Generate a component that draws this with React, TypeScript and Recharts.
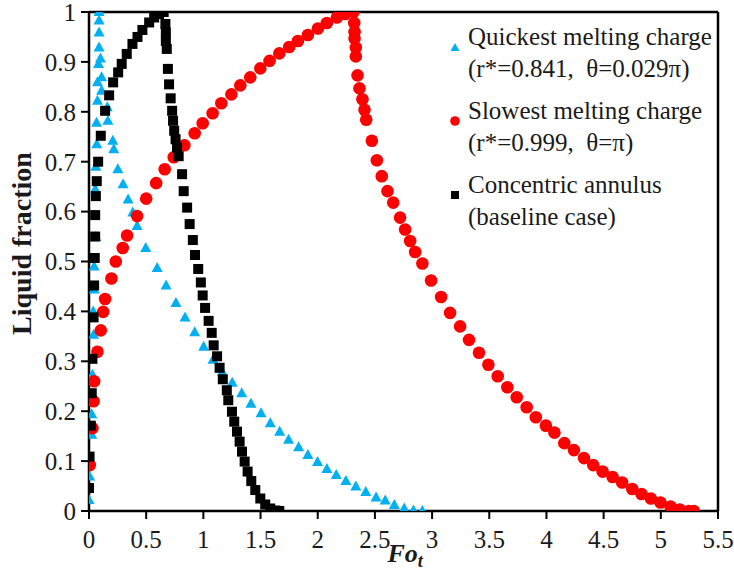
import React from 'react';
import { ScatterChart, Scatter, XAxis, YAxis, ReferenceLine, Legend } from 'recharts';

const xTicks = [0, 0.5, 1, 1.5, 2, 2.5, 3, 3.5, 4, 4.5, 5, 5.5];
const yTicks = [0, 0.1, 0.2, 0.3, 0.4, 0.5, 0.6, 0.7, 0.8, 0.9, 1];

// Quickest melting charge (blue triangles)
const quickestFo = [
  0, 0.005, 0.024, 0.024, 0.03, 0.04, 0.037, 0.045, 0.045, 0.06, 0.055, 0.06, 0.068, 0.066, 0.074, 0.074, 0.083, 0.088, 0.088, 0.088, 0.088,
  0.1, 0.11, 0.11, 0.16, 0.165, 0.208, 0.217, 0.252, 0.298, 0.342, 0.383, 0.42, 0.496, 0.596, 0.674, 0.76, 0.84, 0.924, 1.003, 1.084,
  1.166, 1.252, 1.335, 1.416, 1.504, 1.585, 1.667, 1.745, 1.833, 1.914, 1.998, 2.08, 2.162, 2.246, 2.333, 2.42, 2.51, 2.59, 2.67, 2.756,
  2.837, 2.915,
];
const quickestLF = [
  0.022, 0.069, 0.153, 0.194, 0.273, 0.353, 0.4, 0.444, 0.49, 0.549, 0.645, 0.69, 0.735, 0.778, 0.822, 0.859, 0.896, 0.929, 0.959, 0.983, 1.0,
  0.907, 0.869, 0.842, 0.809, 0.782, 0.742, 0.725, 0.685, 0.655, 0.624, 0.598, 0.571, 0.527, 0.487, 0.452, 0.417, 0.388, 0.358, 0.329, 0.303,
  0.278, 0.257, 0.236, 0.215, 0.196, 0.176, 0.159, 0.143, 0.128, 0.112, 0.098, 0.084, 0.072, 0.06, 0.049, 0.038, 0.027, 0.021, 0.012, 0.005,
  0.001, 0.0,
];

// Slowest melting charge (red circles)
const slowestFo = [
  0.007, 0.03, 0.04, 0.045, 0.074, 0.103, 0.124, 0.141, 0.196, 0.234, 0.295, 0.333, 0.421, 0.5, 0.587, 0.662, 0.741, 0.834, 0.924, 0.994,
  1.081, 1.157, 1.245, 1.323, 1.41, 1.498, 1.579, 1.664, 1.751, 1.827, 1.914, 2.002, 2.08, 2.168, 2.24, 2.313,
  2.319, 2.322, 2.322, 2.333, 2.333, 2.348, 2.365, 2.391, 2.409, 2.424, 2.473, 2.517, 2.56, 2.61, 2.66, 2.72, 2.764, 2.808, 2.852, 2.915,
  2.991, 3.079, 3.157, 3.245, 3.323, 3.41, 3.492, 3.574, 3.658, 3.74, 3.827, 3.907, 3.995, 4.07, 4.156, 4.24, 4.328, 4.409, 4.491, 4.578,
  4.662, 4.75, 4.831, 4.913, 4.997, 5.085, 5.166, 5.245, 5.288,
];
const slowestLF = [
  0.092, 0.166, 0.22, 0.26, 0.319, 0.362, 0.399, 0.425, 0.466, 0.5, 0.527, 0.552, 0.591, 0.626, 0.657, 0.685, 0.709, 0.733, 0.757, 0.777,
  0.797, 0.817, 0.835, 0.853, 0.869, 0.887, 0.902, 0.917, 0.93, 0.942, 0.954, 0.967, 0.978, 0.989, 0.996, 1.0,
  0.978, 0.96, 0.947, 0.929, 0.911, 0.873, 0.847, 0.825, 0.804, 0.784, 0.742, 0.703, 0.671, 0.641, 0.618, 0.588, 0.564, 0.541, 0.519, 0.496,
  0.462, 0.429, 0.397, 0.37, 0.343, 0.317, 0.293, 0.27, 0.248, 0.228, 0.208, 0.188, 0.171, 0.157, 0.136, 0.122, 0.106, 0.092, 0.079, 0.068,
  0.057, 0.044, 0.034, 0.025, 0.017, 0.009, 0.003, 0.0, 0.0,
];

// Concentric annulus (black squares)
const concentricFo = [
  0, 0.005, 0.016, 0.024, 0.03, 0.04, 0.045, 0.05, 0.054, 0.054, 0.06, 0.068, 0.08, 0.103, 0.141, 0.176, 0.211, 0.255, 0.286, 0.33, 0.38,
  0.424, 0.467, 0.526, 0.57, 0.613, 0.653,
  0.668, 0.672, 0.672, 0.68, 0.69, 0.7, 0.714, 0.727, 0.735, 0.745, 0.757, 0.77, 0.784, 0.814, 0.828, 0.858, 0.88, 0.908, 0.927, 0.955,
  0.978, 0.994, 1.015, 1.046, 1.073, 1.09, 1.12, 1.142, 1.17, 1.205, 1.218, 1.25, 1.27, 1.294, 1.317, 1.338, 1.361, 1.387, 1.419, 1.454,
  1.498, 1.541, 1.585, 1.63, 1.664,
];
const concentricLF = [
  0.046, 0.109, 0.171, 0.236, 0.305, 0.388, 0.452, 0.507, 0.55, 0.593, 0.631, 0.661, 0.7, 0.752, 0.802, 0.833, 0.859, 0.879, 0.896, 0.916, 0.936,
  0.95, 0.964, 0.979, 0.989, 0.996, 1.0,
  0.976, 0.959, 0.942, 0.926, 0.886, 0.855, 0.827, 0.802, 0.782, 0.762, 0.745, 0.728, 0.711, 0.675, 0.641, 0.608, 0.575, 0.543, 0.513, 0.485,
  0.458, 0.432, 0.407, 0.381, 0.357, 0.332, 0.31, 0.287, 0.264, 0.242, 0.222, 0.199, 0.179, 0.159, 0.139, 0.119, 0.099, 0.079, 0.06, 0.042,
  0.025, 0.013, 0.005, 0.001, 0.0,
];

const legendLines = [
  ['Quickest melting charge', '(r*=0.841,  \u03b8=0.029\u03c0)'],
  ['Slowest melting charge', '(r*=0.999,  \u03b8=\u03c0)'],
  ['Concentric annulus', '(baseline case)'],
];

const zip = (xs: number[], ys: number[]) => xs.map((x, i) => ({ x, y: ys[i] }));
const quickest = zip(quickestFo, quickestLF);
const slowest = zip(slowestFo, slowestLF);
const concentric = zip(concentricFo, concentricLF);

const BLUE = '#00B0F0';
const RED = '#FF0000';
const BLACK = '#000000';
const FONT = 'Liberation Serif, Times New Roman, serif';
const TEXT = '#1a1a1a';

const TriangleShape = (p: any) => {
  const { cx, cy } = p;
  return <polygon points={`${cx},${cy - 6} ${cx - 5.5},${cy + 4} ${cx + 5.5},${cy + 4}`} fill={BLUE} />;
};
const CircleShape = (p: any) => <circle cx={p.cx} cy={p.cy} r={6.3} fill={RED} />;
const SquareShape = (p: any) => <rect x={p.cx - 5} y={p.cy - 5} width={10} height={10} fill={BLACK} />;

const markerFor = (i: number) => {
  if (i === 0) return <svg width={12} height={12}><polygon points="6,2 1.5,10 10.5,10" fill={BLUE} /></svg>;
  if (i === 1) return <svg width={12} height={12}><circle cx={6} cy={6} r={4.8} fill={RED} /></svg>;
  return <svg width={12} height={12}><rect x={2} y={2} width={8} height={8} fill={BLACK} /></svg>;
};

const LegendContent = () => (
  <div style={{ fontFamily: FONT, fontSize: 25, color: TEXT, background: '#fff' }}>
    {legendLines.map((lines, i) => (
      <div key={i} style={{ display: 'flex', alignItems: 'flex-start', marginBottom: 10 }}>
        <div style={{ width: 19, paddingTop: 10 }}>{markerFor(i)}</div>
        <div style={{ lineHeight: '32px', whiteSpace: 'pre' }}>
          <div>{lines[0]}</div>
          <div>{lines[1]}</div>
        </div>
      </div>
    ))}
  </div>
);

const AxisTick = (props: any) => {
  const { x, y, payload, textAnchor, verticalAnchor } = props;
  const dy = verticalAnchor === 'start' ? '0.71em' : verticalAnchor === 'end' ? '0' : '0.355em';
  return (
    <text x={x} y={y} dy={dy} textAnchor={textAnchor} style={{ fontFamily: FONT, fontSize: 25, fill: TEXT }}>
      {String(payload.value)}
    </text>
  );
};

const XLabel = (props: any) => {
  const vb = props.viewBox || {};
  const cx = vb.x + vb.width / 2;
  return (
    <text x={cx - 16} y={562} style={{ fontFamily: FONT, fontSize: 26, fontWeight: 'bold', fontStyle: 'italic', fill: TEXT }}>
      Fo
      <tspan style={{ fontSize: 18 }} dy={5}>t</tspan>
    </text>
  );
};

const YLabel = (props: any) => {
  const vb = props.viewBox || {};
  const cy = vb.y + vb.height / 2 - 18;
  return (
    <text x={31} y={cy} transform={`rotate(-90, 31, ${cy})`} textAnchor="middle" style={{ fontFamily: FONT, fontSize: 28, fontWeight: 'bold', fill: TEXT }}>
      Liquid fraction
    </text>
  );
};

export default function App() {
  return (
    <div style={{ position: 'absolute', left: 0, top: 0, width: 734, height: 573, background: '#fff' }}>
      <ScatterChart width={734} height={573} margin={{ top: 12, right: 16, bottom: 22, left: 29 }}>
        <XAxis
          type="number"
          dataKey="x"
          domain={[0, 5.5]}
          ticks={xTicks}
          interval={0}
          allowDataOverflow
          height={40}
          tickSize={8}
          tickMargin={11}
          axisLine={{ stroke: BLACK, strokeWidth: 2.5 }}
          tickLine={{ stroke: BLACK, strokeWidth: 2 }}
          tick={<AxisTick />}
          label={<XLabel />}
        />
        <YAxis
          type="number"
          dataKey="y"
          domain={[0, 1]}
          ticks={yTicks}
          interval={0}
          allowDataOverflow
          width={60}
          tickSize={8}
          tickMargin={5}
          axisLine={{ stroke: BLACK, strokeWidth: 2.5 }}
          tickLine={{ stroke: BLACK, strokeWidth: 2 }}
          tick={<AxisTick />}
          label={<YLabel />}
        />
        <ReferenceLine y={1} stroke={BLACK} strokeWidth={2.5} />
        <ReferenceLine x={5.5} stroke={BLACK} strokeWidth={2.5} />
        <Scatter name="Quickest" data={quickest} shape={TriangleShape} isAnimationActive={false} />
        <Scatter name="Slowest" data={slowest} shape={CircleShape} isAnimationActive={false} />
        <Scatter name="Concentric" data={concentric} shape={SquareShape} isAnimationActive={false} />
        <Legend
          layout="vertical"
          align="center"
          verticalAlign="middle"
          content={<LegendContent />}
          wrapperStyle={{ left: 449, top: 21, width: 266 }}
        />
      </ScatterChart>
    </div>
  );
}
